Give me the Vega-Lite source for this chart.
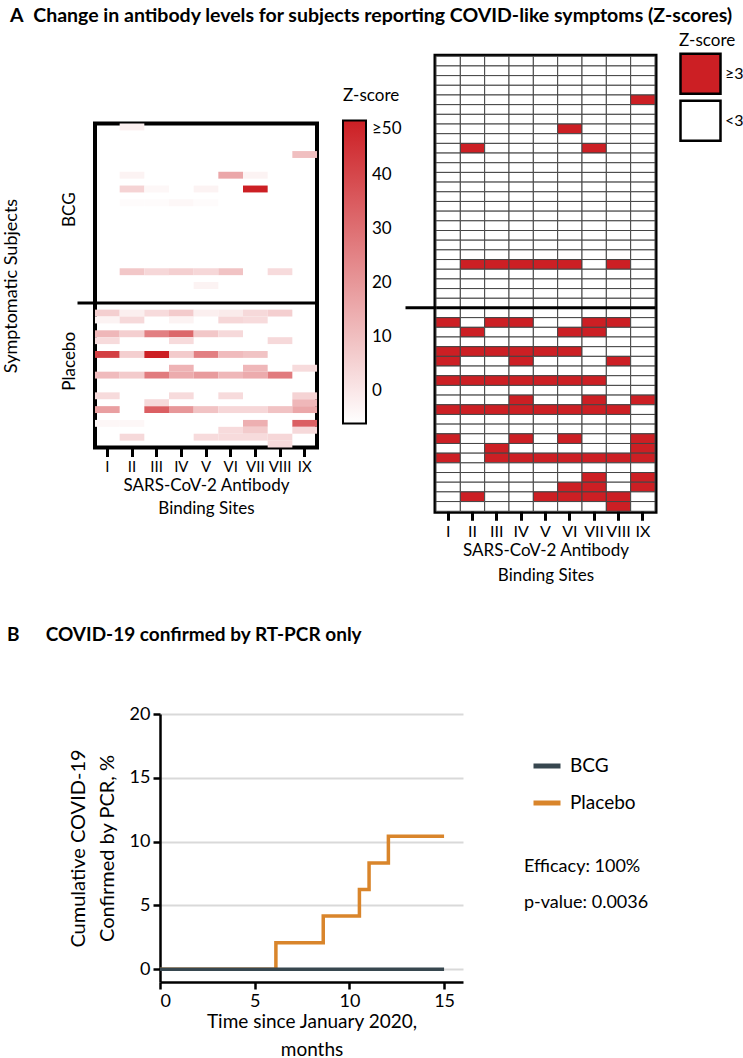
{
  "$schema": "https://vega.github.io/schema/vega-lite/v6.json",
  "padding": {"left": 0, "top": 6, "right": 0, "bottom": 0},
  "config": {
    "font": "Lato",
    "view": {"stroke": null},
    "axis": {"labelFont": "Lato", "titleFont": "Lato", "labelColor": "black", "titleColor": "black", "titleFontWeight": "normal"},
    "legend": {"labelFont": "Lato", "titleFont": "Lato", "labelColor": "black", "titleColor": "black", "titleFontWeight": "normal"},
    "title": {"font": "Lato", "color": "black"}
  },
  "datasets": {
    "cells": [
      {"s":1,"c":"I","f":0},{"s":1,"c":"II","f":0,"z":-2},{"s":1,"c":"III","f":0},{"s":1,"c":"IV","f":0},{"s":1,"c":"V","f":0},{"s":1,"c":"VI","f":0},{"s":1,"c":"VII","f":0},{"s":1,"c":"VIII","f":0},{"s":1,"c":"IX","f":0},
      {"s":2,"c":"I","f":0},{"s":2,"c":"II","f":0},{"s":2,"c":"III","f":0},{"s":2,"c":"IV","f":0},{"s":2,"c":"V","f":0},{"s":2,"c":"VI","f":0},{"s":2,"c":"VII","f":0},{"s":2,"c":"VIII","f":0},{"s":2,"c":"IX","f":0},
      {"s":3,"c":"I","f":0},{"s":3,"c":"II","f":0},{"s":3,"c":"III","f":0},{"s":3,"c":"IV","f":0},{"s":3,"c":"V","f":0},{"s":3,"c":"VI","f":0},{"s":3,"c":"VII","f":0},{"s":3,"c":"VIII","f":0},{"s":3,"c":"IX","f":0},
      {"s":4,"c":"I","f":0},{"s":4,"c":"II","f":0},{"s":4,"c":"III","f":0},{"s":4,"c":"IV","f":0},{"s":4,"c":"V","f":0},{"s":4,"c":"VI","f":0},{"s":4,"c":"VII","f":0},{"s":4,"c":"VIII","f":0},{"s":4,"c":"IX","f":0},
      {"s":5,"c":"I","f":0},{"s":5,"c":"II","f":0},{"s":5,"c":"III","f":0},{"s":5,"c":"IV","f":0},{"s":5,"c":"V","f":0},{"s":5,"c":"VI","f":0},{"s":5,"c":"VII","f":0},{"s":5,"c":"VIII","f":0},{"s":5,"c":"IX","f":1,"z":10},
      {"s":6,"c":"I","f":0},{"s":6,"c":"II","f":0},{"s":6,"c":"III","f":0},{"s":6,"c":"IV","f":0},{"s":6,"c":"V","f":0},{"s":6,"c":"VI","f":0},{"s":6,"c":"VII","f":0},{"s":6,"c":"VIII","f":0},{"s":6,"c":"IX","f":0},
      {"s":7,"c":"I","f":0},{"s":7,"c":"II","f":0},{"s":7,"c":"III","f":0},{"s":7,"c":"IV","f":0},{"s":7,"c":"V","f":0},{"s":7,"c":"VI","f":0},{"s":7,"c":"VII","f":0},{"s":7,"c":"VIII","f":0},{"s":7,"c":"IX","f":0},
      {"s":8,"c":"I","f":0},{"s":8,"c":"II","f":0,"z":-3},{"s":8,"c":"III","f":0},{"s":8,"c":"IV","f":0},{"s":8,"c":"V","f":0},{"s":8,"c":"VI","f":1,"z":16},{"s":8,"c":"VII","f":0,"z":-3},{"s":8,"c":"VIII","f":0},{"s":8,"c":"IX","f":0},
      {"s":9,"c":"I","f":0},{"s":9,"c":"II","f":0},{"s":9,"c":"III","f":0},{"s":9,"c":"IV","f":0},{"s":9,"c":"V","f":0},{"s":9,"c":"VI","f":0},{"s":9,"c":"VII","f":0},{"s":9,"c":"VIII","f":0},{"s":9,"c":"IX","f":0},
      {"s":10,"c":"I","f":0},{"s":10,"c":"II","f":1,"z":5},{"s":10,"c":"III","f":0,"z":-4},{"s":10,"c":"IV","f":0},{"s":10,"c":"V","f":0,"z":-3},{"s":10,"c":"VI","f":0},{"s":10,"c":"VII","f":1,"z":50},{"s":10,"c":"VIII","f":0},{"s":10,"c":"IX","f":0},
      {"s":11,"c":"I","f":0},{"s":11,"c":"II","f":0},{"s":11,"c":"III","f":0},{"s":11,"c":"IV","f":0},{"s":11,"c":"V","f":0},{"s":11,"c":"VI","f":0},{"s":11,"c":"VII","f":0},{"s":11,"c":"VIII","f":0},{"s":11,"c":"IX","f":0},
      {"s":12,"c":"I","f":0},{"s":12,"c":"II","f":0,"z":-5},{"s":12,"c":"III","f":0,"z":-5},{"s":12,"c":"IV","f":0,"z":-4},{"s":12,"c":"V","f":0,"z":-5},{"s":12,"c":"VI","f":0},{"s":12,"c":"VII","f":0},{"s":12,"c":"VIII","f":0},{"s":12,"c":"IX","f":0},
      {"s":13,"c":"I","f":0},{"s":13,"c":"II","f":0},{"s":13,"c":"III","f":0},{"s":13,"c":"IV","f":0},{"s":13,"c":"V","f":0},{"s":13,"c":"VI","f":0},{"s":13,"c":"VII","f":0},{"s":13,"c":"VIII","f":0},{"s":13,"c":"IX","f":0},
      {"s":14,"c":"I","f":0},{"s":14,"c":"II","f":0},{"s":14,"c":"III","f":0},{"s":14,"c":"IV","f":0},{"s":14,"c":"V","f":0},{"s":14,"c":"VI","f":0},{"s":14,"c":"VII","f":0},{"s":14,"c":"VIII","f":0},{"s":14,"c":"IX","f":0},
      {"s":15,"c":"I","f":0},{"s":15,"c":"II","f":0},{"s":15,"c":"III","f":0},{"s":15,"c":"IV","f":0},{"s":15,"c":"V","f":0},{"s":15,"c":"VI","f":0},{"s":15,"c":"VII","f":0},{"s":15,"c":"VIII","f":0},{"s":15,"c":"IX","f":0},
      {"s":16,"c":"I","f":0},{"s":16,"c":"II","f":0},{"s":16,"c":"III","f":0},{"s":16,"c":"IV","f":0},{"s":16,"c":"V","f":0},{"s":16,"c":"VI","f":0},{"s":16,"c":"VII","f":0},{"s":16,"c":"VIII","f":0},{"s":16,"c":"IX","f":0},
      {"s":17,"c":"I","f":0},{"s":17,"c":"II","f":0},{"s":17,"c":"III","f":0},{"s":17,"c":"IV","f":0},{"s":17,"c":"V","f":0},{"s":17,"c":"VI","f":0},{"s":17,"c":"VII","f":0},{"s":17,"c":"VIII","f":0},{"s":17,"c":"IX","f":0},
      {"s":18,"c":"I","f":0},{"s":18,"c":"II","f":0},{"s":18,"c":"III","f":0},{"s":18,"c":"IV","f":0},{"s":18,"c":"V","f":0},{"s":18,"c":"VI","f":0},{"s":18,"c":"VII","f":0},{"s":18,"c":"VIII","f":0},{"s":18,"c":"IX","f":0},
      {"s":19,"c":"I","f":0},{"s":19,"c":"II","f":0},{"s":19,"c":"III","f":0},{"s":19,"c":"IV","f":0},{"s":19,"c":"V","f":0},{"s":19,"c":"VI","f":0},{"s":19,"c":"VII","f":0},{"s":19,"c":"VIII","f":0},{"s":19,"c":"IX","f":0},
      {"s":20,"c":"I","f":0},{"s":20,"c":"II","f":0},{"s":20,"c":"III","f":0},{"s":20,"c":"IV","f":0},{"s":20,"c":"V","f":0},{"s":20,"c":"VI","f":0},{"s":20,"c":"VII","f":0},{"s":20,"c":"VIII","f":0},{"s":20,"c":"IX","f":0},
      {"s":21,"c":"I","f":0},{"s":21,"c":"II","f":0},{"s":21,"c":"III","f":0},{"s":21,"c":"IV","f":0},{"s":21,"c":"V","f":0},{"s":21,"c":"VI","f":0},{"s":21,"c":"VII","f":0},{"s":21,"c":"VIII","f":0},{"s":21,"c":"IX","f":0},
      {"s":22,"c":"I","f":0},{"s":22,"c":"II","f":1,"z":8},{"s":22,"c":"III","f":1,"z":4},{"s":22,"c":"IV","f":1,"z":6},{"s":22,"c":"V","f":1,"z":4},{"s":22,"c":"VI","f":1,"z":9},{"s":22,"c":"VII","f":0},{"s":22,"c":"VIII","f":1,"z":3},{"s":22,"c":"IX","f":0},
      {"s":23,"c":"I","f":0},{"s":23,"c":"II","f":0},{"s":23,"c":"III","f":0},{"s":23,"c":"IV","f":0},{"s":23,"c":"V","f":0},{"s":23,"c":"VI","f":0},{"s":23,"c":"VII","f":0},{"s":23,"c":"VIII","f":0},{"s":23,"c":"IX","f":0},
      {"s":24,"c":"I","f":0},{"s":24,"c":"II","f":0},{"s":24,"c":"III","f":0},{"s":24,"c":"IV","f":0},{"s":24,"c":"V","f":0,"z":-3},{"s":24,"c":"VI","f":0},{"s":24,"c":"VII","f":0},{"s":24,"c":"VIII","f":0},{"s":24,"c":"IX","f":0},
      {"s":25,"c":"I","f":0},{"s":25,"c":"II","f":0},{"s":25,"c":"III","f":0},{"s":25,"c":"IV","f":0},{"s":25,"c":"V","f":0},{"s":25,"c":"VI","f":0},{"s":25,"c":"VII","f":0},{"s":25,"c":"VIII","f":0},{"s":25,"c":"IX","f":0},
      {"s":26,"c":"I","f":0},{"s":26,"c":"II","f":0},{"s":26,"c":"III","f":0},{"s":26,"c":"IV","f":0},{"s":26,"c":"V","f":0},{"s":26,"c":"VI","f":0},{"s":26,"c":"VII","f":0},{"s":26,"c":"VIII","f":0},{"s":26,"c":"IX","f":0},
      {"s":27,"c":"I","f":0},{"s":27,"c":"II","f":0},{"s":27,"c":"III","f":0},{"s":27,"c":"IV","f":0},{"s":27,"c":"V","f":0},{"s":27,"c":"VI","f":0},{"s":27,"c":"VII","f":0},{"s":27,"c":"VIII","f":0},{"s":27,"c":"IX","f":0},
      {"s":28,"c":"I","f":1,"z":6},{"s":28,"c":"II","f":0,"z":-2},{"s":28,"c":"III","f":1,"z":3},{"s":28,"c":"IV","f":1,"z":7},{"s":28,"c":"V","f":0,"z":-2},{"s":28,"c":"VI","f":0,"z":-1},{"s":28,"c":"VII","f":1,"z":3.5},{"s":28,"c":"VIII","f":1,"z":6},{"s":28,"c":"IX","f":0},
      {"s":29,"c":"I","f":0,"z":-3},{"s":29,"c":"II","f":1,"z":3.5},{"s":29,"c":"III","f":0},{"s":29,"c":"IV","f":0,"z":-3},{"s":29,"c":"V","f":0},{"s":29,"c":"VI","f":1,"z":4},{"s":29,"c":"VII","f":1,"z":3},{"s":29,"c":"VIII","f":0},{"s":29,"c":"IX","f":0},
      {"s":30,"c":"I","f":0},{"s":30,"c":"II","f":0},{"s":30,"c":"III","f":0},{"s":30,"c":"IV","f":0},{"s":30,"c":"V","f":0},{"s":30,"c":"VI","f":0},{"s":30,"c":"VII","f":0},{"s":30,"c":"VIII","f":0},{"s":30,"c":"IX","f":0},
      {"s":31,"c":"I","f":1,"z":12},{"s":31,"c":"II","f":1,"z":6},{"s":31,"c":"III","f":1,"z":26},{"s":31,"c":"IV","f":1,"z":32},{"s":31,"c":"V","f":1,"z":8},{"s":31,"c":"VI","f":1,"z":3.5},{"s":31,"c":"VII","f":0},{"s":31,"c":"VIII","f":0},{"s":31,"c":"IX","f":0},
      {"s":32,"c":"I","f":1,"z":3},{"s":32,"c":"II","f":0},{"s":32,"c":"III","f":0},{"s":32,"c":"IV","f":1,"z":3},{"s":32,"c":"V","f":0},{"s":32,"c":"VI","f":0},{"s":32,"c":"VII","f":0},{"s":32,"c":"VIII","f":1,"z":3.5},{"s":32,"c":"IX","f":0},
      {"s":33,"c":"I","f":0},{"s":33,"c":"II","f":0},{"s":33,"c":"III","f":0},{"s":33,"c":"IV","f":0},{"s":33,"c":"V","f":0},{"s":33,"c":"VI","f":0},{"s":33,"c":"VII","f":0},{"s":33,"c":"VIII","f":0},{"s":33,"c":"IX","f":0},
      {"s":34,"c":"I","f":1,"z":42},{"s":34,"c":"II","f":1,"z":6},{"s":34,"c":"III","f":1,"z":50},{"s":34,"c":"IV","f":1,"z":7},{"s":34,"c":"V","f":1,"z":26},{"s":34,"c":"VI","f":1,"z":11},{"s":34,"c":"VII","f":1,"z":9},{"s":34,"c":"VIII","f":0},{"s":34,"c":"IX","f":0},
      {"s":35,"c":"I","f":0},{"s":35,"c":"II","f":0},{"s":35,"c":"III","f":0},{"s":35,"c":"IV","f":0},{"s":35,"c":"V","f":0},{"s":35,"c":"VI","f":0},{"s":35,"c":"VII","f":0},{"s":35,"c":"VIII","f":0},{"s":35,"c":"IX","f":0},
      {"s":36,"c":"I","f":0},{"s":36,"c":"II","f":0},{"s":36,"c":"III","f":0},{"s":36,"c":"IV","f":1,"z":13},{"s":36,"c":"V","f":0},{"s":36,"c":"VI","f":0},{"s":36,"c":"VII","f":1,"z":12},{"s":36,"c":"VIII","f":0},{"s":36,"c":"IX","f":1,"z":3},
      {"s":37,"c":"I","f":1,"z":11},{"s":37,"c":"II","f":1,"z":7},{"s":37,"c":"III","f":1,"z":27},{"s":37,"c":"IV","f":1,"z":15},{"s":37,"c":"V","f":1,"z":19},{"s":37,"c":"VI","f":1,"z":12},{"s":37,"c":"VII","f":1,"z":15},{"s":37,"c":"VIII","f":1,"z":27},{"s":37,"c":"IX","f":0},
      {"s":38,"c":"I","f":0},{"s":38,"c":"II","f":0},{"s":38,"c":"III","f":0},{"s":38,"c":"IV","f":0},{"s":38,"c":"V","f":0},{"s":38,"c":"VI","f":0},{"s":38,"c":"VII","f":0},{"s":38,"c":"VIII","f":0},{"s":38,"c":"IX","f":0},
      {"s":39,"c":"I","f":0},{"s":39,"c":"II","f":0},{"s":39,"c":"III","f":0},{"s":39,"c":"IV","f":0},{"s":39,"c":"V","f":0},{"s":39,"c":"VI","f":0},{"s":39,"c":"VII","f":0},{"s":39,"c":"VIII","f":0},{"s":39,"c":"IX","f":0},
      {"s":40,"c":"I","f":1,"z":3},{"s":40,"c":"II","f":0},{"s":40,"c":"III","f":0},{"s":40,"c":"IV","f":1,"z":3},{"s":40,"c":"V","f":0},{"s":40,"c":"VI","f":1,"z":3},{"s":40,"c":"VII","f":0},{"s":40,"c":"VIII","f":0},{"s":40,"c":"IX","f":1,"z":5},
      {"s":41,"c":"I","f":0},{"s":41,"c":"II","f":0},{"s":41,"c":"III","f":1,"z":3.5},{"s":41,"c":"IV","f":0},{"s":41,"c":"V","f":0},{"s":41,"c":"VI","f":0},{"s":41,"c":"VII","f":0},{"s":41,"c":"VIII","f":0},{"s":41,"c":"IX","f":1,"z":12},
      {"s":42,"c":"I","f":1,"z":18},{"s":42,"c":"II","f":0},{"s":42,"c":"III","f":1,"z":34},{"s":42,"c":"IV","f":1,"z":20},{"s":42,"c":"V","f":1,"z":9},{"s":42,"c":"VI","f":1,"z":4},{"s":42,"c":"VII","f":1,"z":4},{"s":42,"c":"VIII","f":1,"z":9},{"s":42,"c":"IX","f":1,"z":16},
      {"s":43,"c":"I","f":0},{"s":43,"c":"II","f":0},{"s":43,"c":"III","f":0},{"s":43,"c":"IV","f":0},{"s":43,"c":"V","f":0},{"s":43,"c":"VI","f":0},{"s":43,"c":"VII","f":0},{"s":43,"c":"VIII","f":0},{"s":43,"c":"IX","f":0},
      {"s":44,"c":"I","f":0,"z":-4},{"s":44,"c":"II","f":0,"z":-4},{"s":44,"c":"III","f":0},{"s":44,"c":"IV","f":0},{"s":44,"c":"V","f":0},{"s":44,"c":"VI","f":0},{"s":44,"c":"VII","f":1,"z":14},{"s":44,"c":"VIII","f":0},{"s":44,"c":"IX","f":1,"z":34},
      {"s":45,"c":"I","f":0},{"s":45,"c":"II","f":0},{"s":45,"c":"III","f":0},{"s":45,"c":"IV","f":0},{"s":45,"c":"V","f":0},{"s":45,"c":"VI","f":1,"z":3},{"s":45,"c":"VII","f":1,"z":7},{"s":45,"c":"VIII","f":0},{"s":45,"c":"IX","f":1,"z":3.5},
      {"s":46,"c":"I","f":0},{"s":46,"c":"II","f":1,"z":3.5},{"s":46,"c":"III","f":0},{"s":46,"c":"IV","f":0},{"s":46,"c":"V","f":1,"z":3},{"s":46,"c":"VI","f":1,"z":3},{"s":46,"c":"VII","f":1,"z":3},{"s":46,"c":"VIII","f":1,"z":4},{"s":46,"c":"IX","f":0},
      {"s":47,"c":"I","f":0},{"s":47,"c":"II","f":0},{"s":47,"c":"III","f":0},{"s":47,"c":"IV","f":0},{"s":47,"c":"V","f":0},{"s":47,"c":"VI","f":0},{"s":47,"c":"VII","f":0},{"s":47,"c":"VIII","f":1,"z":3},{"s":47,"c":"IX","f":0}
    ],
    "pcr": [
      {"g":"BCG","m":0,"p":0},{"g":"BCG","m":15,"p":0},
      {"g":"Placebo","m":0,"p":0},{"g":"Placebo","m":6.12,"p":2.08},{"g":"Placebo","m":8.62,"p":4.17},{"g":"Placebo","m":10.53,"p":6.25},{"g":"Placebo","m":11.04,"p":8.33},{"g":"Placebo","m":12.06,"p":10.42},{"g":"Placebo","m":15,"p":10.42}
    ]
  },
  "columns": 1,
  "align": "none",
  "spacing": 40,
  "resolve": {"scale": {"color": "independent", "opacity": "independent", "shape": "independent"}, "legend": {"color": "independent", "opacity": "independent", "shape": "independent"}},
  "concat": [
    {
      "title": {"text": "A\u2002Change in antibody levels for subjects reporting COVID-like symptoms (Z-scores)", "anchor": "start", "frame": "group", "dx": -85, "offset": 4, "fontSize": 19.5, "fontWeight": "bold"},
      "center": true,
      "spacing": -3,
      "resolve": {"scale": {"color": "independent"}, "legend": {"color": "independent"}},
      "hconcat": [
        {
          "width": 222,
          "height": 324,
          "view": {"stroke": "black", "strokeWidth": 4},
          "data": {"name": "cells"},
          "transform": [{"filter": "isValid(datum.z)"}],
          "mark": {"type": "rect"},
          "encoding": {
            "x": {"field": "c", "type": "ordinal", "scale": {"domain": ["I","II","III","IV","V","VI","VII","VIII","IX"], "paddingInner": 0, "paddingOuter": 0},
              "axis": {"title": ["SARS-CoV-2 Antibody", "Binding Sites"], "labelAngle": 0, "labelFontSize": 15, "labelPadding": 3, "tickSize": 9, "tickWidth": 3, "tickColor": "black", "domain": false, "titleFontSize": 17, "titleLineHeight": 23, "titlePadding": 3}},
            "y": {"field": "s", "type": "ordinal", "scale": {"domain": [1,2,3,4,5,6,7,8,9,10,11,12,13,14,15,16,17,18,19,20,21,22,23,24,25,26,27,28,29,30,31,32,33,34,35,36,37,38,39,40,41,42,43,44,45,46,47], "paddingInner": 0, "paddingOuter": 0},
              "axis": {"values": [13, 26, 35], "bandPosition": 1, "labelExpr": "datum.value == 13 ? 'BCG' : (datum.value == 35 ? 'Placebo' : '')", "labelAngle": -90, "labelAlign": "center", "labelBaseline": "bottom", "labelPadding": -1, "labelFontSize": 17, "labelOverlap": false, "tickSize": 18, "tickWidth": 3, "tickColor": {"condition": {"test": "datum.value == 26", "value": "black"}, "value": "transparent"}, "grid": true, "gridWidth": 3, "gridColor": {"condition": {"test": "datum.value == 26", "value": "black"}, "value": "transparent"}, "domain": false, "zindex": 1, "title": "Symptomatic Subjects", "titleFontSize": 18, "titlePadding": 40}},
            "color": {"field": "z", "type": "quantitative", "scale": {"domain": [-6, 50], "range": ["#ffffff", "#CC1F24"], "clamp": true, "interpolate": "rgb"},
              "legend": {"title": "Z-score", "orient": "none", "legendX": 248, "legendY": -36, "direction": "vertical", "gradientLength": 303, "gradientThickness": 23, "gradientStrokeColor": "black", "gradientStrokeWidth": 2, "values": [0, 10, 20, 30, 40, 50], "labelExpr": "datum.value == 50 ? '≥50' : datum.label", "labelFontSize": 17, "labelOffset": 6, "labelOverlap": false, "titleFontSize": 17, "titlePadding": 16}}
          }
        },
        {
          "width": 219,
          "height": 455,
          "view": {"stroke": "black", "strokeWidth": 5},
          "data": {"name": "cells"},
          "mark": {"type": "rect", "stroke": "#444444", "strokeWidth": 1},
          "encoding": {
            "x": {"field": "c", "type": "ordinal", "scale": {"domain": ["I","II","III","IV","V","VI","VII","VIII","IX"], "paddingInner": 0, "paddingOuter": 0},
              "axis": {"title": ["SARS-CoV-2 Antibody", "Binding Sites"], "labelAngle": 0, "labelFontSize": 16, "labelPadding": 3, "tickSize": 9, "tickWidth": 3, "tickColor": "black", "domain": false, "titleFontSize": 17, "titleLineHeight": 25, "titlePadding": 3}},
            "y": {"field": "s", "type": "ordinal", "scale": {"domain": [1,2,3,4,5,6,7,8,9,10,11,12,13,14,15,16,17,18,19,20,21,22,23,24,25,26,27,28,29,30,31,32,33,34,35,36,37,38,39,40,41,42,43,44,45,46,47], "paddingInner": 0, "paddingOuter": 0},
              "axis": {"values": [26], "bandPosition": 1, "labels": false, "tickSize": 31, "tickWidth": 3, "tickColor": "black", "grid": true, "gridColor": "black", "gridWidth": 3, "domain": false, "zindex": 1, "title": null}},
            "color": {"field": "f", "type": "nominal", "scale": {"domain": [1, 0], "range": ["#CC1F24", "#ffffff"]},
              "legend": {"title": "Z-score", "orient": "none", "legendX": 243, "legendY": -23, "symbolType": "square", "symbolSize": 1600, "symbolStrokeColor": "black", "symbolStrokeWidth": 2.5, "symbolOpacity": 1, "rowPadding": -18, "labelExpr": "datum.value == 1 ? '≥3' : '<3'", "labelFontSize": 16, "labelOffset": 3, "titleFontSize": 17, "titlePadding": 2}}
          }
        }
      ]
    },
    {
      "title": {"text": "B\u2003\u2002\u2009COVID-19 confirmed by RT-PCR only", "anchor": "start", "frame": "group", "dx": -88, "offset": 60, "fontSize": 19, "fontWeight": "bold"},
      "bounds": "flush",
      "spacing": 64,
      "resolve": {"scale": {"color": "independent", "shape": "independent"}, "legend": {"color": "independent", "shape": "independent"}},
      "hconcat": [
        {
          "width": 1,
          "height": 268,
          "data": {"values": []},
          "mark": {"type": "point", "opacity": 0},
          "encoding": {}
        },
        {
          "width": 303,
          "height": 268,
          "data": {"name": "pcr"},
          "layer": [
            {
              "transform": [{"filter": "datum.g == 'Placebo'"}],
              "mark": {"type": "line", "interpolate": "step-after", "strokeWidth": 3.5},
              "encoding": {
                "x": {"field": "m", "type": "quantitative", "scale": {"domain": [0, 16], "nice": false},
                  "axis": {"values": [0, 5, 10, 15], "title": ["Time since January 2020,", "months"], "titleFontSize": 19, "titleLineHeight": 28, "titlePadding": 2, "labelFontSize": 18, "labelPadding": 3, "tickSize": 7, "tickWidth": 2.5, "tickColor": "black", "domainColor": "black", "domainWidth": 2.5, "grid": false}},
                "y": {"field": "p", "type": "quantitative", "scale": {"domain": [-1, 20], "nice": false},
                  "axis": {"values": [0, 5, 10, 15, 20], "title": ["Cumulative COVID-19", "Confirmed by PCR, %"], "titleFontSize": 20, "titleLineHeight": 29, "titlePadding": 12, "labelFontSize": 18, "labelPadding": 3, "tickSize": 7, "tickWidth": 2.5, "tickColor": "black", "domainColor": "black", "domainWidth": 2.5, "grid": true, "gridColor": "#D9D9D9", "gridWidth": 2}},
                "color": {"field": "g", "type": "nominal", "scale": {"domain": ["BCG", "Placebo"], "range": ["#37474F", "#D9852B"]},
                  "legend": {"title": null, "orient": "none", "legendX": 371, "legendY": 36, "symbolType": "stroke", "symbolStrokeWidth": 5, "symbolSize": 729, "labelFontSize": 19, "labelOffset": 7, "rowPadding": 11}}
              }
            },
            {
              "transform": [{"filter": "datum.g == 'BCG'"}],
              "mark": {"type": "line", "interpolate": "step-after", "strokeWidth": 3.5},
              "encoding": {
                "x": {"field": "m", "type": "quantitative"},
                "y": {"field": "p", "type": "quantitative"},
                "color": {"field": "g", "type": "nominal"}
              }
            },
            {
              "data": {"values": [{"t": "Efficacy: 100%"}, {"t": "p-value: 0.0036"}]},
              "mark": {"type": "point", "opacity": 0},
              "encoding": {
                "shape": {"field": "t", "type": "nominal",
                  "legend": {"title": null, "orient": "none", "legendX": 346, "legendY": 144, "symbolSize": 0, "symbolOpacity": 0, "symbolStrokeWidth": 0, "labelOffset": 0, "labelFontSize": 18, "rowPadding": 18}}
              }
            }
          ]
        }
      ]
    }
  ]
}
